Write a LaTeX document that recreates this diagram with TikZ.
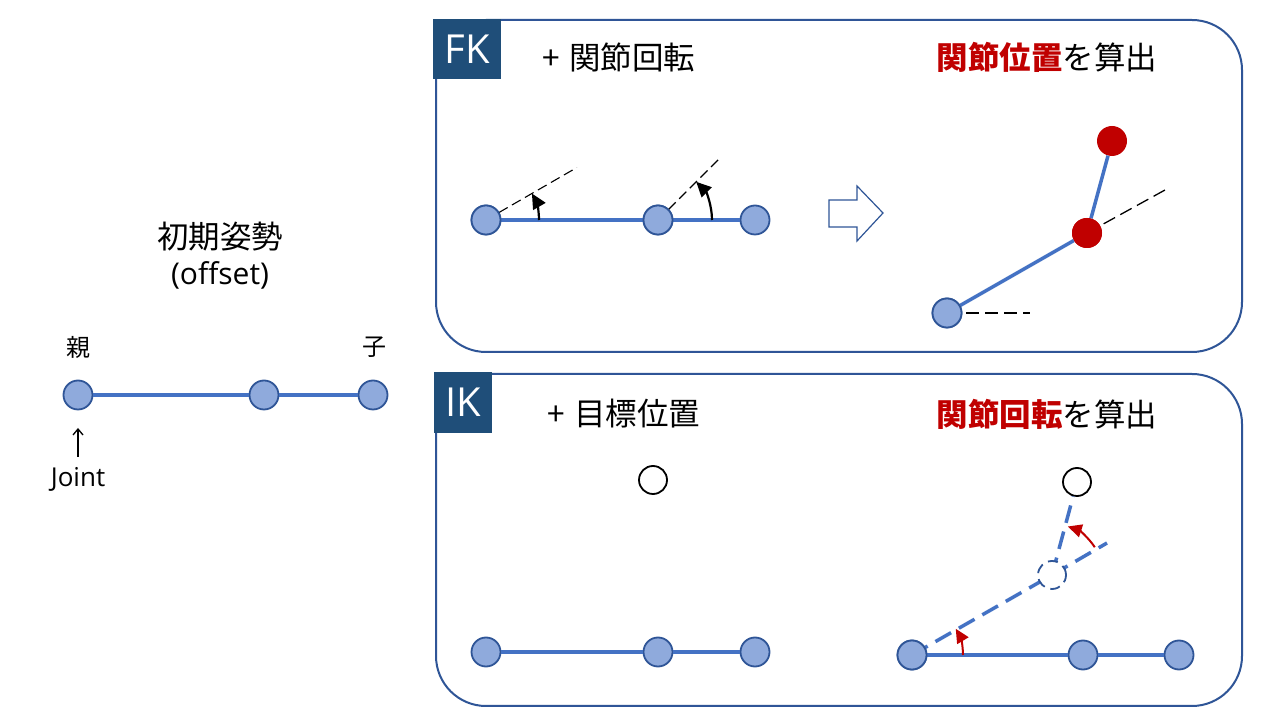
\documentclass[tikz,border=0pt]{standalone}
\usepackage{fontspec}
\setmainfont{Noto Sans CJK JP}
\newfontfamily\latinf{Open Sans}
\usetikzlibrary{arrows.meta,calc}
\definecolor{panelblue}{HTML}{2F5597}
\definecolor{tagblue}{HTML}{1F4E79}
\definecolor{jfill}{HTML}{8FAADC}
\definecolor{jdraw}{HTML}{2F5597}
\definecolor{linkblue}{HTML}{4472C4}
\definecolor{hot}{HTML}{C00000}
\tikzset{
  panel/.style={draw=panelblue, line width=2pt, rounded corners=50pt},
  tagbox/.style={fill=tagblue, text=white, inner sep=0pt, minimum height=60pt, font=\latinf\fontsize{40}{44}\selectfont},
  joint/.style={circle, fill=jfill, draw=jdraw, line width=1.8pt, minimum size=29pt, inner sep=0pt},
  hotjoint/.style={circle, fill=hot, minimum size=30pt, inner sep=0pt},
  target/.style={circle, fill=white, draw=black, line width=1.8pt, minimum size=28pt, inner sep=0pt},
  ghost/.style={circle, fill=white, draw=jdraw, line width=1.8pt, dash pattern=on 10pt off 6pt, minimum size=28pt, inner sep=0pt},
  link/.style={draw=linkblue, line width=3.5pt},
  dlink/.style={draw=linkblue, line width=3.5pt, dash pattern=on 18pt off 9pt},
  guide/.style={draw=black, line width=1.1pt, dash pattern=on 10pt off 5pt},
  guideb/.style={draw=black, line width=1.3pt, dash pattern=on 13pt off 6pt},
  rotarrow/.style={draw=black, line width=2.2pt, -{Triangle[length=15pt,width=14pt]}},
  redarrow/.style={draw=hot, line width=2pt, -{Triangle[length=14pt,width=13pt]}},
  big/.style={font=\fontsize{31.5}{36}\selectfont, inner sep=0pt},
  small/.style={font=\fontsize{24}{28}\selectfont, inner sep=0pt},
  lat/.style={font=\latinf\fontsize{30}{36}\selectfont, inner sep=0pt},
  blockarrow/.style={draw=panelblue, line width=1.2pt, fill=white}
}
\begin{document}
\begin{tikzpicture}[x=1pt,y=1pt]
\useasboundingbox (0,0) rectangle (1280,720);
\fill[white] (0,0) rectangle (1280,720);

% panels
\draw[panel] (436,368) rectangle (1242,700);
\draw[panel] (436,14) rectangle (1242,346);
\node[tagbox, minimum width=68pt] (fk) at (467,671) {FK};
\node[tagbox, minimum width=58pt, minimum height=61pt] (ik) at (463,317.5) {IK};

% left: initial pose
\node[big] (init) at (220,483) {初期姿勢};
\node[lat] (offs) at (220,445) {(offset)};
\node[joint] (l1) at (78,325) {};
\node[joint] (l2) at (264,325) {};
\node[joint] (l3) at (373,325) {};
\draw[link] (l1) -- (l2);
\draw[link] (l2) -- (l3);
\node[small] (oya) at (78,373) {親};
\node[small] (ko) at (374,373) {子};
\node[font=\latinf\fontsize{26}{30}\selectfont, inner sep=0pt] (joint) at (78,241) {Joint};
\coordinate (jt) at (78,263);
\coordinate (jh) at (78,292);
\draw[line width=1.3pt, -{Straight Barb[length=6pt,width=10pt]}] (jt) -- (jh);

% FK panel texts
\node[big] (fkt1) at (619,663) {+\hspace{0.3em}関節回転};
\node[big] (fkt2) at (1047,663) {{\bfseries\color{hot}関節位置}を算出};

% FK left chain
\node[joint] (f1) at (486,500) {};
\node[joint] (f2) at (658,500) {};
\node[joint] (f3) at (755,500) {};
\coordinate (fd1) at ($(f1.center)+(30:105)$);
\coordinate (fd2) at ($(f2.center)+(45:85)$);
\draw[guide] (f1.center) -- (fd1);
\draw[guide] (f2.center) -- (fd2);
\draw[link] (f1) -- (f2);
\draw[link] (f2) -- (f3);
\node[joint] at (f1) {};
\node[joint] at (f2) {};
\draw[rotarrow] ($(f1.center)+(53,0)$) arc[start angle=0, end angle=30, radius=53pt];
\draw[rotarrow] ($(f2.center)+(54,0)$) arc[start angle=0, end angle=45, radius=54pt];

% block arrow
\draw[blockarrow] (829,520) -- (857,520) -- (857,534) -- (883,507) -- (857,479) -- (857,493) -- (829,493) -- cycle;

% FK right result
\node[joint] (b0) at (947,407) {};
\node[hotjoint] (r1) at (1087,487) {};
\node[hotjoint] (r2) at (1112,579) {};
\coordinate (bh) at (1030,407);
\coordinate (rh) at (1165,530);
\draw[guideb] (b0.center) -- (bh);
\draw[guideb] (r1.center) -- (rh);
\draw[link] (b0) -- (r1);
\draw[link] (r1) -- (r2);
\node[joint] at (b0) {};
\node[hotjoint] at (r1) {};

% IK panel texts
\node[big] (ikt1) at (624,306) {+\hspace{0.3em}目標位置};
\node[big] (ikt2) at (1047,306) {{\bfseries\color{hot}関節回転}を算出};

% IK left chain
\node[joint] (i1) at (486,68) {};
\node[joint] (i2) at (658,68) {};
\node[joint] (i3) at (755,68) {};
\draw[link] (i1) -- (i2);
\draw[link] (i2) -- (i3);
\node[target] (tg1) at (653,240) {};

% IK right result
\node[joint] (k1) at (912,65) {};
\node[joint] (k2) at (1083,65) {};
\node[joint] (k3) at (1179,65) {};
\node[target] (tg2) at (1077,238) {};
\coordinate (gh) at (1052,145);
\coordinate (ge) at (1107,177);
\draw[dlink] (k1.center) -- (gh);
\draw[dlink] (gh) -- (ge);
\draw[dlink] (gh) -- (tg2);
\node[ghost] (g) at (gh) {};
\draw[link] (k1) -- (k2);
\draw[link] (k2) -- (k3);
\node[joint] at (k1) {};
\draw[redarrow] ($(k1.center)+(51,0)$) arc[start angle=0, end angle=31, radius=51pt];
\draw[redarrow] ($(g.center)+(33:51)$) arc[start angle=33, end angle=72, radius=51pt];
\end{tikzpicture}
\end{document}
